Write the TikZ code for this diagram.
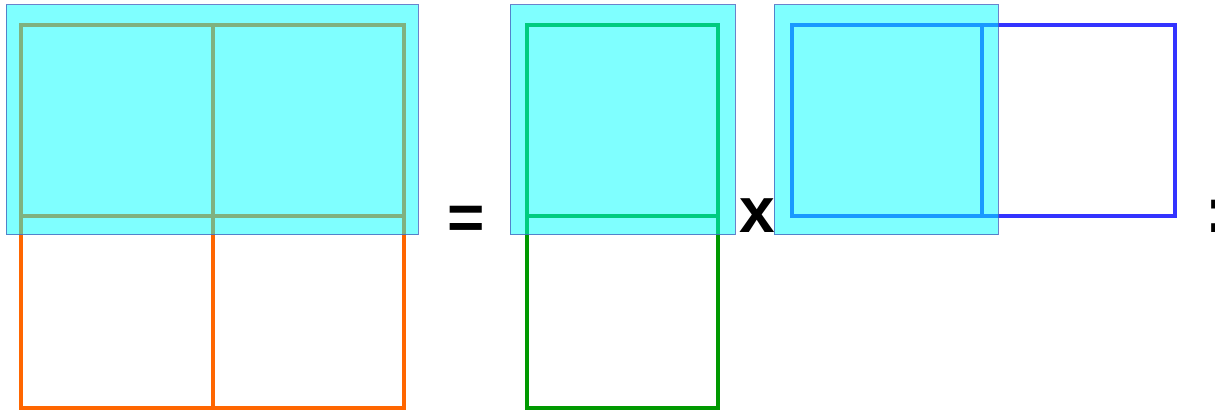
\documentclass[tikz,border=0pt]{standalone}
\usepackage{fontspec}
\setmainfont{Liberation Sans}
\definecolor{gorange}{RGB}{255,102,0}
\definecolor{ggreen}{RGB}{0,153,0}
\definecolor{gblue}{RGB}{51,51,255}
\definecolor{gcyan}{RGB}{0,255,255}
\definecolor{boxedge}{RGB}{70,100,190}
\begin{document}
\begin{tikzpicture}[x=1pt,y=-1pt,
  gridline/.style={line width=3.2pt,line join=miter},
  overlay box/.style={fill=gcyan,fill opacity=0.5,draw=boxedge,draw opacity=0.8,line width=1pt},
  op/.style={font=\fontsize{64}{64}\selectfont\bfseries,inner sep=0pt,anchor=base}]
\useasboundingbox (0,0) rectangle (1215,411);
% grid A
\draw[gridline,gorange] (21,25) rectangle (404,408);
\draw[gridline,gorange] (213,25) -- (213,408) (21,216) -- (404,216);
% grid B
\draw[gridline,ggreen] (527,25) rectangle (718,408);
\draw[gridline,ggreen] (527,216) -- (718,216);
% grid C
\draw[gridline,gblue] (792,25) rectangle (1175,216);
\draw[gridline,gblue] (982,25) -- (982,216);
% overlays
\draw[overlay box] (6,5) rectangle (418,235);
\draw[overlay box] (510,5) rectangle (735,235);
\draw[overlay box] (774,5) rectangle (998,235);
% operators
\node[op] (eq) at (466,240) {=};
\node[op] (times) at (757,233) {x};
\node[op,anchor=base west] (colon) at (1205,233) {:};
\end{tikzpicture}
\end{document}
